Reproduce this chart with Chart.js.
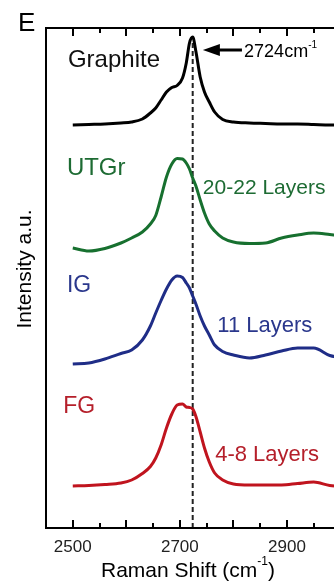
<!DOCTYPE html>
<html>
<head>
<meta charset="utf-8">
<script src="https://cdn.jsdelivr.net/npm/chart.js@4/dist/chart.umd.min.js"></script>
<style>
  html, body { margin: 0; padding: 0; background: #fff; overflow: hidden; }
  #wrap { width: 334px; height: 587px; overflow: hidden; }
</style>
</head>
<body>
<div id="wrap"><canvas id="chart" width="400" height="587"></canvas></div>
<script>
// Raman shift (cm-1) sample points shared by all spectra
const shifts = [2500, 2530, 2560, 2590, 2610, 2630, 2645, 2655, 2665, 2675, 2685, 2695, 2705, 2712, 2718, 2724,
  2730, 2738, 2746, 2755, 2765, 2780, 2800, 2830, 2860, 2890, 2920, 2950, 2980, 3010, 3040, 3070, 3100];

// intensities, already offset for stacking (a.u.)
const graphite = [80.6, 80.7, 80.8, 81.0, 81.2, 81.8, 83.0, 84.0, 85.6, 87.2, 88.1, 88.5, 90.0, 93.0, 97.0, 98.2,
  95.3, 90.2, 87.2, 85.2, 83.2, 81.7, 81.2, 81.0, 80.9, 80.8, 80.8, 80.7, 80.6, 80.6, 80.5, 80.5, 80.5];
const utgr = [56.0, 55.4, 55.9, 57.0, 58.0, 59.2, 60.8, 62.5, 66.2, 70.2, 72.8, 73.9, 73.8, 73.0, 71.8, 70.0,
  68.4, 65.6, 63.0, 60.8, 59.4, 58.0, 57.2, 56.9, 57.0, 58.0, 58.6, 59.0, 58.7, 58.3, 57.8, 57.4, 57.0];
const ig = [32.8, 33.0, 33.8, 34.9, 35.6, 37.6, 40.4, 43.0, 45.5, 47.8, 49.6, 50.4, 50.1, 49.0, 48.0, 46.4,
  44.8, 42.4, 40.4, 38.6, 36.6, 35.3, 34.6, 34.0, 34.6, 35.4, 36.0, 36.0, 34.5, 34.0, 33.8, 33.6, 33.5];
const fg = [8.4, 8.5, 8.7, 9.0, 9.6, 10.9, 12.3, 14.0, 16.6, 20.0, 22.8, 24.6, 24.8, 24.2, 24.1, 23.8,
  22.3, 19.2, 16.0, 13.2, 11.0, 9.6, 8.8, 8.6, 8.6, 8.6, 8.9, 9.2, 8.5, 8.3, 8.2, 8.2, 8.2];

const seriesNames = ['Graphite', 'UTGr', 'IG', 'FG'];
const layerNotes = ['', '20-22 Layers', '11 Layers', '4-8 Layers'];
const xTickLabels = [2500, 2700, 2900];
const peakShift = 2724;

const FONT = 'Arial, "Liberation Sans", sans-serif';
const colors = ['#000000', '#17702f', '#1f2d87', '#c0141e'];
const textColors = ['#111111', '#1d6b33', '#2a378c', '#b51f2a'];

function pts(ys) {
  return shifts.map((x, i) => ({ x: x, y: ys[i] }));
}

const decor = {
  id: 'decor',
  beforeDatasetsDraw(chart) {
    const c = chart.ctx, xs = chart.scales.x, ys = chart.scales.y;
    const px = xs.getPixelForValue(peakShift);
    c.save();
    c.strokeStyle = '#222';
    c.lineWidth = 2;
    c.setLineDash([5, 3]);
    c.beginPath();
    c.moveTo(px, ys.getPixelForValue(97));
    c.lineTo(px, ys.getPixelForValue(0));
    c.stroke();
    c.restore();
  },
  afterDatasetsDraw(chart) {
    const c = chart.ctx, a = chart.chartArea, xs = chart.scales.x;
    c.save();
    c.setLineDash([]);
    c.strokeStyle = '#000';
    c.lineWidth = 2;
    c.beginPath();
    c.moveTo(a.right + 5, a.top);
    c.lineTo(a.left, a.top);
    c.lineTo(a.left, a.bottom);
    c.lineTo(a.right + 5, a.bottom);
    c.stroke();
    // inward ticks every 50, longer every 100
    c.beginPath();
    for (let v = 2500; v < 3100; v += 50) {
      const p = Math.round(xs.getPixelForValue(v));
      const len = v % 100 === 0 ? 8 : 5;
      c.moveTo(p, a.bottom);
      c.lineTo(p, a.bottom - len);
      c.moveTo(p, a.top);
      c.lineTo(p, a.top + len);
    }
    c.stroke();
    c.restore();
  },
  afterDraw(chart) {
    const c = chart.ctx, xs = chart.scales.x, ys = chart.scales.y;
    c.save();
    // series labels
    c.textBaseline = 'middle';
    c.textAlign = 'left';
    const nameAt = [[2491, 93.6, 24], [2489, 72, 24], [2489, 48.4, 23], [2482, 24.2, 23]];
    const noteAt = [null, [2743, 68, 21], [2770, 40.4, 22], [2766, 14.6, 22]];
    seriesNames.forEach((n, i) => {
      c.fillStyle = textColors[i];
      c.font = nameAt[i][2] + 'px ' + FONT;
      c.fillText(n, xs.getPixelForValue(nameAt[i][0]), ys.getPixelForValue(nameAt[i][1]));
      if (noteAt[i]) {
        c.font = noteAt[i][2] + 'px ' + FONT;
        c.fillText(layerNotes[i], xs.getPixelForValue(noteAt[i][0]), ys.getPixelForValue(noteAt[i][1]));
      }
    });
    // arrow to peak
    const tipX = xs.getPixelForValue(2743), tailX = xs.getPixelForValue(2816), ay = ys.getPixelForValue(95.6);
    c.fillStyle = '#000';
    c.strokeStyle = '#000';
    c.lineWidth = 3;
    c.beginPath(); c.moveTo(tipX + 12, ay); c.lineTo(tailX, ay); c.stroke();
    c.beginPath();
    c.moveTo(tipX, ay); c.lineTo(tipX + 17, ay - 6); c.lineTo(tipX + 17, ay + 6); c.closePath();
    c.fill();
    c.font = '18px ' + FONT;
    const tx = xs.getPixelForValue(2820), ty = ys.getPixelForValue(95.2);
    c.fillText(peakShift + 'cm', tx, ty);
    const w = c.measureText(peakShift + 'cm').width;
    c.font = '10px ' + FONT;
    c.fillText('-1', tx + w, ty - 7);
    // panel letter
    c.font = '26px ' + FONT;
    c.fillText('E', 18, 24);
    // axis titles
    c.font = '21px ' + FONT;
    const t1 = 'Raman Shift (cm', t3 = ')';
    const w1 = c.measureText(t1).width;
    c.font = '12px ' + FONT;
    const w2 = c.measureText('-1').width;
    c.font = '21px ' + FONT;
    const w3 = c.measureText(t3).width;
    const sx = 188 - (w1 + w2 + w3) / 2;
    const sy = 571;
    c.fillText(t1, sx, sy);
    c.font = '12px ' + FONT;
    c.fillText('-1', sx + w1, sy - 9);
    c.font = '21px ' + FONT;
    c.fillText(t3, sx + w1 + w2, sy);
    c.translate(25, 269);
    c.rotate(-Math.PI / 2);
    c.textAlign = 'center';
    c.fillText('Intensity a.u.', 0, 0);
    c.restore();
  }
};

const ctx = document.getElementById('chart').getContext('2d');
const chart = new Chart(ctx, {
  type: 'line',
  data: {
    datasets: [graphite, utgr, ig, fg].map((d, i) => ({
      label: seriesNames[i],
      data: pts(d),
      borderColor: colors[i],
      borderWidth: 3,
      pointRadius: 0,
      fill: false,
      cubicInterpolationMode: 'monotone'
    }))
  },
  options: {
    responsive: false,
    devicePixelRatio: 1,
    animation: false,
    layout: { padding: { top: 28, left: 46, right: 6, bottom: 0 } },
    plugins: { legend: { display: false }, tooltip: { enabled: false } },
    scales: {
      x: {
        type: 'linear',
        min: 2450,
        max: 3100,
        border: { display: false },
        grid: { display: false, drawTicks: false },
        afterFit: s => { s.height = 59; },
        afterBuildTicks: s => { s.ticks = xTickLabels.map(v => ({ value: v })); },
        ticks: {
          padding: 9,
          color: '#222',
          font: { family: FONT, size: 17 },
          maxRotation: 0,
          autoSkip: false,
          callback: v => String(v)
        }
      },
      y: { min: 0, max: 100, display: false }
    }
  },
  plugins: [decor]
});
</script>
</body>
</html>
